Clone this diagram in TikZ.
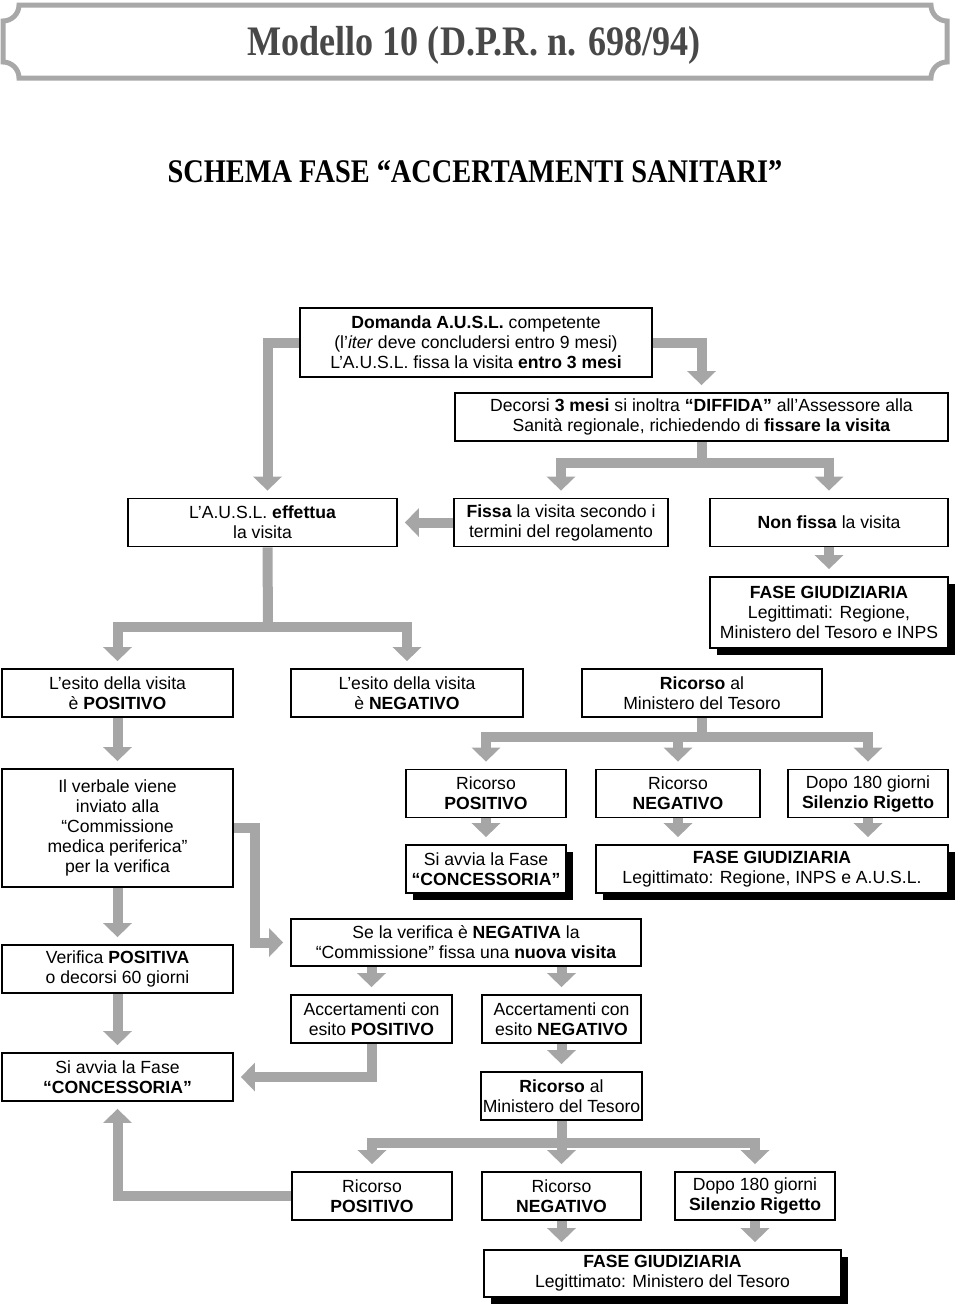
\documentclass[tikz,border=0pt]{standalone}
\usepackage{fontspec}
\setmainfont{Liberation Sans}
\newfontfamily\titlefont[FakeStretch=0.86]{Liberation Serif}
\usetikzlibrary{arrows.meta,shadows}
\definecolor{flowgray}{RGB}{166,166,166}
\definecolor{framegray}{RGB}{168,168,168}
\definecolor{titlegray}{RGB}{72,72,72}
\newcommand{\boxfont}{\fontsize{17.6}{20}\selectfont}

\begin{document}
\begin{tikzpicture}[x=1pt, y=-1pt, line join=miter]
\tikzset{
  stepbox/.style={draw, line width=1.8pt, fill=white, align=center, inner sep=2pt, font=\boxfont, minimum height=48pt},
  shadowbox/.style={stepbox, drop shadow={shadow xshift=7pt, shadow yshift=-7pt, fill=black, opacity=1}},
  bar/.style={draw=flowgray, line width=10pt},
  flow/.style={bar, -{Triangle[width=28pt, length=14pt]}, shorten >=7pt}
}
\useasboundingbox (0,0) rectangle (960,1310);

\draw[framegray, line width=5pt] (19,5) -- (931,5) arc[start angle=180, end angle=270, radius=16pt]
  -- (947,62) arc[start angle=90, end angle=180, radius=16pt]
  -- (19,78) arc[start angle=0, end angle=90, radius=16pt]
  -- (3,21) arc[start angle=-90, end angle=0, radius=16pt] -- cycle;
\node[font=\titlefont\bfseries\fontsize{42}{48}\selectfont, text=titlegray, anchor=base, inner sep=0pt] (title) at (474,55) {Modello 10 (D.P.R. n. 698/94)};
\node[font=\titlefont\bfseries\fontsize{33}{38}\selectfont, anchor=base, inner sep=0pt] (subtitle) at (475,182) {SCHEMA FASE “ACCERTAMENTI SANITARI”};

\node[stepbox, minimum width=352pt, minimum height=69pt] (dom) at (476,342.5) {\textbf{Domanda A.U.S.L.} competente\\(l’\textit{iter} deve concludersi entro 9 mesi)\\L’A.U.S.L. fissa la visita \textbf{entro 3 mesi}};
\node[stepbox, minimum width=493pt] (dif) at (701.5,417) {Decorsi \textbf{3 mesi} si inoltra \textbf{“DIFFIDA”} all’Assessore alla\\Sanità regionale, richiedendo di \textbf{fissare la visita}};

\node[stepbox, minimum width=269pt] (eff) at (262.5,522.5) {L’A.U.S.L. \textbf{effettua}\\la visita};
\node[stepbox, minimum width=214pt] (fis) at (561,522.5) {\textbf{Fissa} la visita secondo i\\termini del regolamento};
\node[stepbox, minimum width=238pt] (non) at (829,522.5) {\textbf{Non fissa} la visita};
\node[shadowbox, minimum width=238pt, minimum height=71pt] (giu1) at (829,612.5) {\textbf{FASE GIUDIZIARIA}\\Legittimati: Regione,\\Ministero del Tesoro e INPS};

\node[stepbox, minimum width=231pt] (pos) at (117.5,693) {L’esito della visita\\è \textbf{POSITIVO}};
\node[stepbox, minimum width=232pt] (neg) at (407,693) {L’esito della visita\\è \textbf{NEGATIVO}};
\node[stepbox, minimum width=240pt] (ric1) at (702,693) {\textbf{Ricorso} al\\Ministero del Tesoro};

\node[stepbox, minimum width=231pt, minimum height=118pt] (verb) at (117.5,828) {Il verbale viene\\inviato alla\\“Commissione\\medica periferica”\\per la verifica};
\node[stepbox, minimum width=160pt] (rpos1) at (486,793.5) {Ricorso\\\textbf{POSITIVO}};
\node[stepbox, minimum width=164pt] (rneg1) at (678,793.5) {Ricorso\\\textbf{NEGATIVO}};
\node[stepbox, minimum width=160pt] (sil1) at (868,793.5) {Dopo 180 giorni\\\textbf{Silenzio Rigetto}};
\node[shadowbox, minimum width=160pt] (conc1) at (486,869) {Si avvia la Fase\\\textbf{“CONCESSORIA”}};
\node[shadowbox, minimum width=352pt] (giu2) at (772,869) {\textbf{FASE GIUDIZIARIA}\\Legittimato: Regione, INPS e A.U.S.L.};

\node[stepbox, minimum width=231pt] (ver) at (117.5,969) {Verifica \textbf{POSITIVA}\\o decorsi 60 giorni};
\node[stepbox, minimum width=350pt, minimum height=47pt] (sev) at (466,942.5) {Se la verifica è \textbf{NEGATIVA} la\\“Commissione” fissa una \textbf{nuova visita}};
\node[stepbox, minimum width=161pt] (accp) at (371.5,1019) {Accertamenti con\\esito \textbf{POSITIVO}};
\node[stepbox, minimum width=159pt] (accn) at (561.5,1019) {Accertamenti con\\esito \textbf{NEGATIVO}};
\node[stepbox, minimum width=231pt] (conc2) at (117.5,1077) {Si avvia la Fase\\\textbf{“CONCESSORIA”}};
\node[stepbox, minimum width=159pt] (ric2) at (561.5,1096) {\textbf{Ricorso} al\\Ministero del Tesoro};

\node[stepbox, minimum width=160pt] (rpos2) at (372,1196) {Ricorso\\\textbf{POSITIVO}};
\node[stepbox, minimum width=159pt] (rneg2) at (561.5,1196) {Ricorso\\\textbf{NEGATIVO}};
\node[stepbox, minimum width=160pt] (sil2) at (755,1196) {Dopo 180 giorni\\\textbf{Silenzio Rigetto}};
\node[shadowbox, minimum width=357pt, minimum height=47pt] (giu3) at (662.5,1273.5) {\textbf{FASE GIUDIZIARIA}\\Legittimato: Ministero del Tesoro};

\coordinate (jdif) at (701.5,463);
\coordinate (jeff) at (268,627);
\coordinate (jric1) at (702,737);
\coordinate (jric2) at (561.5,1143);
\coordinate (kverb) at (255,828);

\draw[flow] (dom.west) -| ([xshift=5pt]eff.north);
\draw[flow] (dom.east) -| (dif.north);
\draw[bar] (dif.south) -- (jdif);
\draw[flow] (jdif) -| (fis.north);
\draw[flow] (jdif) -| (non.north);
\draw[flow] (fis.west) -- (eff.east);
\draw[flow] (non.south) -- (giu1.north);

\draw[bar] ([xshift=5pt]eff.south) -- (jeff);
\draw[flow] (jeff) -| (pos.north);
\draw[flow] (jeff) -| (neg.north);
\draw[flow] (pos.south) -- (verb.north);

\draw[bar] (ric1.south) -- (jric1);
\draw[flow] (jric1) -| (rpos1.north);
\draw[flow] (jric1) -| (rneg1.north);
\draw[flow] (jric1) -| (sil1.north);
\draw[flow] (rpos1.south) -- (conc1.north);
\draw[flow] (rneg1.south) -- (rneg1.south |- giu2.north);
\draw[flow] (sil1.south) -- (sil1.south |- giu2.north);

\draw[flow] (verb.south) -- (ver.north);
\draw[flow] (verb.east) -- (kverb) |- (sev.west);
\draw[flow] (accp.north |- sev.south) -- (accp.north);
\draw[flow] (accn.north |- sev.south) -- (accn.north);
\draw[flow] (ver.south) -- (conc2.north);
\draw[flow] (accp.south) |- (conc2.east);
\draw[flow] (accn.south) -- (ric2.north);

\draw[bar] (ric2.south) -- (jric2);
\draw[flow] (jric2) -| (rpos2.north);
\draw[flow] (jric2) -- (rneg2.north);
\draw[flow] (jric2) -| (sil2.north);
\draw[flow] (rpos2.west) -| (conc2.south);
\draw[flow] (rneg2.south) -- (rneg2.south |- giu3.north);
\draw[flow] (sil2.south) -- (sil2.south |- giu3.north);
\end{tikzpicture}
\end{document}
